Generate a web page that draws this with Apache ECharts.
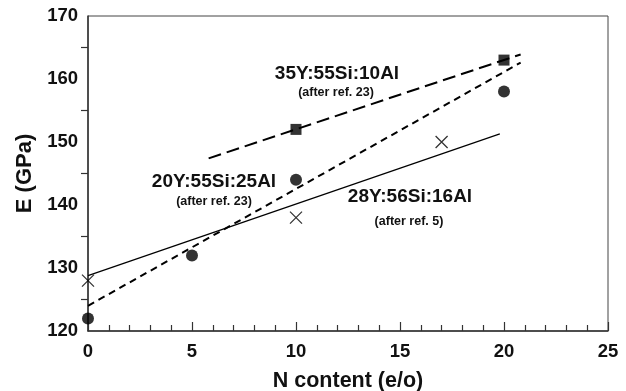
<!DOCTYPE html>
<html>
<head>
<meta charset="utf-8">
<script src="https://cdn.jsdelivr.net/npm/echarts@6/dist/echarts.min.js"></script>
<style>html,body{margin:0;padding:0;background:#fff}#c{width:626px;height:391px}</style>
</head>
<body>
<div id="c"></div>
<script>
// data
const squares = [[10, 152], [20, 163]];                 // 35Y:55Si:10Al
const circles = [[0, 122], [5, 132], [10, 144], [20, 158]]; // 20Y:55Si:25Al
const crosses = [[0, 128], [10, 138], [17, 150]];        // 28Y:56Si:16Al
const fitSquares = [[5.8, 147.4], [20.8, 163.9]];
const fitCircles = [[0, 124.0], [20.8, 162.6]];
const fitCrosses = [[0, 128.8], [19.8, 151.3]];
const xTicks = [0, 5, 10, 15, 20, 25];
const yTicks = [120, 130, 140, 150, 160, 170];

const FONT = '"Liberation Sans", Arial, Helvetica, sans-serif';
const chart = echarts.init(document.getElementById('c'));

function lbl(text, cx, cy, size) {
  return { type: 'text', x: cx, y: cy, style: { text: text, fill: '#111', font: 'bold ' + size + 'px ' + FONT, align: 'center', verticalAlign: 'middle' }, z: 100 };
}

chart.setOption({
  animation: false,
  backgroundColor: '#fff',
  grid: { left: 88, right: 18, top: 16, bottom: 60, show: true, borderColor: '#444', borderWidth: 1,
          containLabel: false, outerBoundsMode: 'none' },
  xAxis: {
    type: 'value', min: xTicks[0], max: xTicks[xTicks.length - 1], interval: 5,
    name: 'N content (e/o)', nameLocation: 'middle', nameGap: 39,
    nameTextStyle: { fontFamily: FONT, fontWeight: 'bold', fontSize: 21.5, color: '#111' },
    axisLine: { lineStyle: { color: '#333', width: 1.5 } },
    axisTick: { inside: true, length: 9, lineStyle: { color: '#333', width: 1.2 } },
    minorTick: { show: true, splitNumber: 5, length: 6, lineStyle: { color: '#333', width: 1.2 } },
    splitLine: { show: false },
    axisLabel: { fontFamily: FONT, fontWeight: 'bold', fontSize: 18.5, color: '#111', margin: 11 }
  },
  yAxis: {
    type: 'value', min: yTicks[0], max: yTicks[yTicks.length - 1], interval: 10,
    name: 'E (GPa)', nameLocation: 'middle', nameGap: 51, nameRotate: 90,
    nameTextStyle: { fontFamily: FONT, fontWeight: 'bold', fontSize: 22, color: '#111' },
    axisLine: { show: true, lineStyle: { color: '#333', width: 1.5 } },
    axisTick: { show: false },
    minorTick: { show: true, splitNumber: 2, length: 7, lineStyle: { color: '#333', width: 1.2 } },
    splitLine: { show: false },
    axisLabel: { fontFamily: FONT, fontWeight: 'bold', fontSize: 18.5, color: '#111', margin: 10 }
  },
  series: [
    { type: 'line', data: fitSquares, symbol: 'none', lineStyle: { color: '#000', width: 2, type: [13, 6] }, z: 2 },
    { type: 'line', data: fitCircles, symbol: 'none', lineStyle: { color: '#000', width: 2, type: [7, 5] }, z: 2 },
    { type: 'line', data: fitCrosses, symbol: 'none', lineStyle: { color: '#000', width: 1.2 }, z: 2 },
    { type: 'scatter', data: squares, symbol: 'rect', symbolSize: 11, itemStyle: { color: '#000' }, z: 3 },
    { type: 'scatter', data: circles, symbol: 'circle', symbolSize: 12, itemStyle: { color: '#000' }, z: 3 },
    { type: 'scatter', data: crosses, symbol: 'path://M0,0L10,10M10,0L0,10', symbolSize: 12,
      itemStyle: { color: 'rgba(0,0,0,0)', borderColor: '#000', borderWidth: 1.3 }, z: 3 }
  ],
  graphic: [
    lbl('35Y:55Si:10Al', 337, 74, 19),
    lbl('(after ref. 23)', 336, 93, 12.5),
    lbl('20Y:55Si:25Al', 214, 182, 19),
    lbl('(after ref. 23)', 214, 202, 12.5),
    lbl('28Y:56Si:16Al', 410, 197, 19),
    lbl('(after ref. 5)', 409, 222, 12.5)
  ]
});
</script>
</body>
</html>
